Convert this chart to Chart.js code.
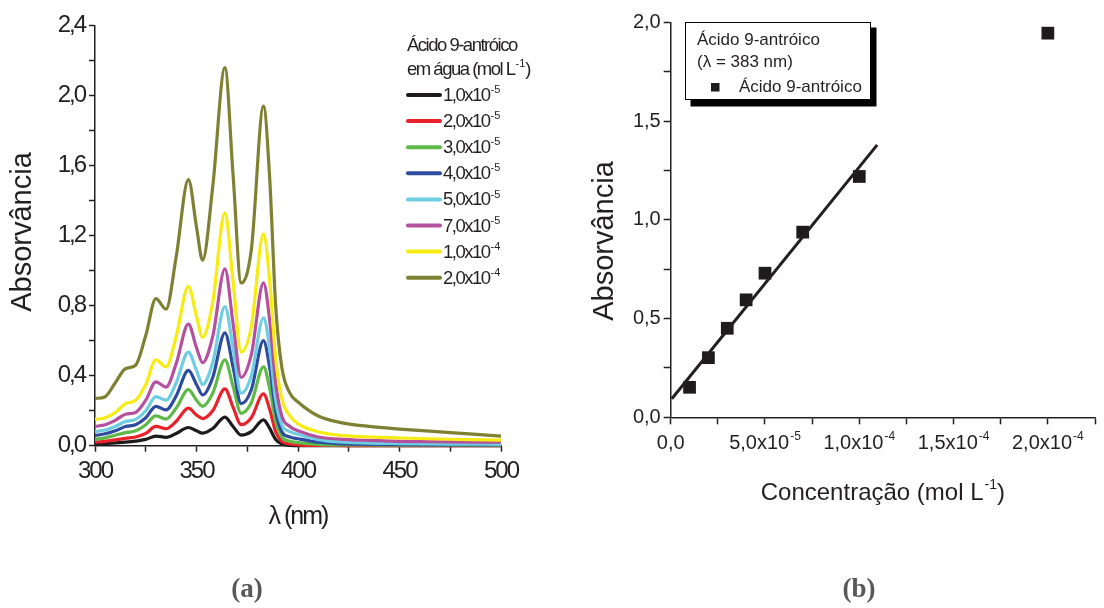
<!DOCTYPE html>
<html>
<head>
<meta charset="utf-8">
<script src="https://cdn.jsdelivr.net/npm/chart.js@4.4.0/dist/chart.umd.min.js"></script>
<style>
    body { margin: 0; background: #fff; width: 1104px; height: 608px; overflow: hidden; position: relative; }
    canvas { position: absolute; top: 0; }
    #chartA { left: 0; }
    #chartB { left: 560px; }
</style>
</head>
<body>
<canvas id="chartA" width="560" height="608"></canvas>
<canvas id="chartB" width="544" height="608"></canvas>
<script>
// (a) espectros UV-Vis
var wavelengths = [300, 305, 310, 315, 320, 325, 330, 335, 340, 346, 350, 353, 358, 364, 368, 372, 377, 383, 386, 389, 392, 396, 400, 410, 420, 435, 450, 475, 500];
var abs1e5 = [0.008, 0.012, 0.016, 0.020, 0.026, 0.036, 0.055, 0.048, 0.070, 0.104, 0.085, 0.072, 0.098, 0.163, 0.110, 0.060, 0.080, 0.148, 0.100, 0.035, 0.010, 0.002, 0.000, 0.000, 0.000, 0.000, 0.000, 0.000, 0.000];
var abs2e5 = [0.020, 0.025, 0.033, 0.042, 0.050, 0.070, 0.110, 0.097, 0.140, 0.215, 0.175, 0.155, 0.200, 0.325, 0.220, 0.120, 0.160, 0.297, 0.210, 0.080, 0.025, 0.010, 0.005, 0.002, 0.001, 0.000, 0.000, 0.000, 0.000];
var abs3e5 = [0.036, 0.045, 0.060, 0.075, 0.085, 0.120, 0.170, 0.152, 0.215, 0.320, 0.260, 0.225, 0.300, 0.490, 0.340, 0.185, 0.245, 0.450, 0.330, 0.140, 0.050, 0.025, 0.018, 0.008, 0.005, 0.004, 0.003, 0.003, 0.002];
var abs4e5 = [0.058, 0.068, 0.085, 0.110, 0.120, 0.160, 0.225, 0.205, 0.285, 0.430, 0.350, 0.290, 0.390, 0.645, 0.450, 0.240, 0.320, 0.600, 0.450, 0.200, 0.080, 0.050, 0.040, 0.020, 0.012, 0.008, 0.006, 0.005, 0.004];
var abs5e5 = [0.080, 0.090, 0.110, 0.138, 0.150, 0.200, 0.280, 0.260, 0.360, 0.535, 0.430, 0.350, 0.475, 0.795, 0.560, 0.300, 0.400, 0.730, 0.560, 0.260, 0.120, 0.080, 0.065, 0.035, 0.022, 0.015, 0.012, 0.009, 0.008];
var abs7e5 = [0.110, 0.120, 0.145, 0.180, 0.190, 0.260, 0.365, 0.335, 0.470, 0.695, 0.560, 0.475, 0.625, 1.010, 0.700, 0.390, 0.520, 0.930, 0.720, 0.360, 0.170, 0.110, 0.085, 0.050, 0.038, 0.030, 0.025, 0.022, 0.020];
var abs1e4 = [0.150, 0.160, 0.190, 0.240, 0.260, 0.350, 0.490, 0.450, 0.625, 0.910, 0.740, 0.620, 0.820, 1.330, 0.940, 0.535, 0.680, 1.210, 0.950, 0.500, 0.270, 0.170, 0.125, 0.080, 0.060, 0.050, 0.044, 0.037, 0.032];
var abs2e4 = [0.270, 0.280, 0.360, 0.440, 0.460, 0.630, 0.840, 0.780, 1.080, 1.520, 1.250, 1.060, 1.480, 2.160, 1.550, 0.930, 1.120, 1.940, 1.540, 0.800, 0.450, 0.300, 0.250, 0.170, 0.135, 0.110, 0.095, 0.075, 0.055];
var spectra = [abs1e5, abs2e5, abs3e5, abs4e5, abs5e5, abs7e5, abs1e4, abs2e4];
// '^' marca o expoente (sobrescrito)
var spectraLabels = ['1,0x10^-5', '2,0x10^-5', '3,0x10^-5', '4,0x10^-5', '5,0x10^-5', '7,0x10^-5', '1,0x10^-4', '2,0x10^-4'];
var spectraColors = ['#1d1b1c', '#e9212b', '#5eb946', '#2d4c9f', '#6ecde0', '#b5509e', '#f7ec12', '#7e8131'];
var legendTitleA = ['Ácido 9-antróico', 'em água (mol L^-1^)'];
var xTicksA = ['300', '350', '400', '450', '500'];
var yTicksA = ['0,0', '0,4', '0,8', '1,2', '1,6', '2,0', '2,4'];

// (b) curva analitica a 383 nm
var concB = [1e-5, 2e-5, 3e-5, 4e-5, 5e-5, 7e-5, 1e-4, 2e-4];
var absB = [0.152, 0.302, 0.451, 0.595, 0.730, 0.938, 1.220, 1.946];
var fitX = [6e-7, 1.095e-4];
var fitY = [0.094, 1.380];
var xTicksB = ['0,0', '5,0x10^-5', '1,0x10^-4', '1,5x10^-4', '2,0x10^-4'];
var yTicksB = ['0,0', '0,5', '1,0', '1,5', '2,0'];
var legendTextB = ['Ácido 9-antróico', '(λ = 383 nm)', 'Ácido 9-antróico'];
var xTitleB = 'Concentração (mol L^-1^)';

var font = '"Liberation Sans", Arial, sans-serif';
var ink = '#231f20';

Chart.defaults.animation = false;
Chart.defaults.font.family = font;

function majorOnly(labels) {
    return function (value, index) {
        return index % 2 === 0 ? labels[index / 2] : '';
    };
}

// texto com expoente: "base^sup^resto"
function richText(ctx, text, x, y, size, align) {
    var parts = text.split('^');
    var small = Math.round(size * 0.6);
    var spacing = ctx.letterSpacing || '0px';
    function setPart(i) {
        ctx.font = (i % 2 ? small : size) + 'px ' + font;
        ctx.letterSpacing = i % 2 ? '0px' : spacing;
    }
    var widths = parts.map(function (p, i) {
        setPart(i);
        return ctx.measureText(p).width + (i % 2 ? 1 : 0);
    });
    var total = widths.reduce(function (a, b) { return a + b; }, 0);
    var cx = align === 'center' ? x - total / 2 : (align === 'right' ? x - total : x);
    ctx.textAlign = 'left';
    ctx.textBaseline = 'middle';
    parts.forEach(function (p, i) {
        setPart(i);
        ctx.fillText(p, cx + (i % 2 ? 1 : 0), i % 2 ? y - size * 0.32 : y);
        cx += widths[i];
    });
    ctx.letterSpacing = spacing;
}

function caption(ctx, text, x, y) {
    ctx.save();
    ctx.letterSpacing = '0px';
    ctx.fillStyle = '#585858';
    ctx.textAlign = 'center';
    ctx.textBaseline = 'middle';
    ctx.font = 'bold 27px "Liberation Serif", "Times New Roman", serif';
    ctx.fillText(text, x, y);
    ctx.restore();
}

function yTitle(ctx, text, x, y) {
    ctx.save();
    ctx.letterSpacing = '0px';
    ctx.fillStyle = ink;
    ctx.textAlign = 'center';
    ctx.textBaseline = 'middle';
    ctx.font = '29px ' + font;
    ctx.translate(x, y);
    ctx.rotate(-Math.PI / 2);
    ctx.fillText(text, 0, 0);
    ctx.restore();
}

var panelA = {
    id: 'panelA',
    beforeDraw: function (chart) {
        chart.ctx.letterSpacing = '-2px';
    },
    afterDraw: function (chart) {
        var ctx = chart.ctx;
        ctx.save();
        ctx.letterSpacing = '-1.5px';
        ctx.fillStyle = ink;
        richText(ctx, legendTitleA[0], 407, 46, 18.5, 'left');
        richText(ctx, legendTitleA[1], 407, 70, 18.5, 'left');
        chart.data.datasets.forEach(function (ds, i) {
            var y = 95 + i * 26.1;
            ctx.strokeStyle = ds.borderColor;
            ctx.lineWidth = 4;
            ctx.lineCap = 'round';
            ctx.beginPath();
            ctx.moveTo(408, y);
            ctx.lineTo(440, y);
            ctx.stroke();
            richText(ctx, ds.label, 443, y + 1, 18.5, 'left');
        });
        ctx.restore();

        yTitle(ctx, 'Absorvância', 23, 232);
        caption(ctx, '(a)', 247, 590);
    }
};

var panelB = {
    id: 'panelB',
    afterDraw: function (chart) {
        var ctx = chart.ctx;
        var pts = chart.data.datasets[1];
        var xs = chart.scales.x;
        ctx.save();
        // caixa da legenda com sombra
        ctx.fillStyle = '#000';
        ctx.fillRect(130.5, 27.5, 186, 79);
        ctx.fillStyle = '#fff';
        ctx.fillRect(125, 22, 186, 78);
        ctx.strokeStyle = '#000';
        ctx.lineWidth = 1;
        ctx.strokeRect(125.5, 22.5, 185, 77);
        ctx.fillStyle = ink;
        richText(ctx, legendTextB[0], 137, 40, 17, 'left');
        richText(ctx, legendTextB[1], 137, 62, 17, 'left');
        richText(ctx, legendTextB[2], 179, 87, 17, 'left');
        ctx.fillStyle = pts.backgroundColor;
        ctx.fillRect(151, 83, 8.5, 8.5);

        // rotulos do eixo x com expoente
        ctx.fillStyle = ink;
        xs.ticks.forEach(function (t, i) {
            if (i % 2 === 0 && xTicksB[i / 2]) {
                richText(ctx, xTicksB[i / 2], xs.getPixelForValue(t.value), xs.top + 26, 20, 'center');
            }
        });
        richText(ctx, xTitleB, (xs.left + xs.right) / 2, 493, 24, 'center');
        ctx.restore();

        yTitle(ctx, 'Absorvância', 45, 241);
        caption(ctx, '(b)', 299, 590);
    }
};

new Chart(document.getElementById('chartA').getContext('2d'), {
    type: 'line',
    data: {
        datasets: spectra.map(function (values, i) {
            return {
                label: spectraLabels[i],
                data: values.map(function (v, j) { return {x: wavelengths[j], y: v}; }),
                borderColor: spectraColors[i],
                borderWidth: 3.2,
                pointRadius: 0,
                cubicInterpolationMode: 'monotone',
                clip: false,
                order: spectra.length - 1 - i
            };
        })
    },
    options: {
        responsive: false,
        devicePixelRatio: 1,
        layout: {padding: {top: 25.7, right: 59, left: 0, bottom: 0}},
        plugins: {legend: {display: false}, tooltip: {enabled: false}},
        scales: {
            x: {
                type: 'linear', min: 300, max: 500,
                afterFit: function (s) { s.height = 608 - 445.7; },
                border: {color: ink, width: 1.5},
                grid: {drawOnChartArea: false, tickLength: 6, tickColor: ink, tickWidth: 1.5},
                ticks: {stepSize: 25, autoSkip: false, maxRotation: 0, padding: 5, color: ink,
                    font: {size: 24}, callback: majorOnly(xTicksA)},
                title: {display: true, text: 'λ (nm)', color: ink, font: {size: 25}, padding: {top: 0, bottom: 76}}
            },
            y: {
                min: 0, max: 2.4,
                afterFit: function (s) { s.width = 95; },
                border: {color: ink, width: 1.5},
                grid: {drawOnChartArea: false, tickLength: 6, tickColor: ink, tickWidth: 1.5},
                ticks: {stepSize: 0.2, autoSkip: false, padding: 4, color: ink,
                    font: {size: 24}, callback: majorOnly(yTicksA)}
            }
        }
    },
    plugins: [panelA]
});

new Chart(document.getElementById('chartB').getContext('2d'), {
    type: 'scatter',
    data: {
        datasets: [
            {
                label: 'Ajuste linear',
                data: fitX.map(function (x, i) { return {x: x, y: fitY[i]}; }),
                showLine: true,
                borderColor: ink,
                borderWidth: 3,
                pointRadius: 0,
                clip: false
            },
            {
                label: legendTextB[2],
                data: concB.map(function (c, i) { return {x: c, y: absB[i]}; }),
                pointStyle: 'rect',
                pointRadius: 9,
                backgroundColor: '#1d1b1c',
                borderWidth: 0,
                clip: false
            }
        ]
    },
    options: {
        responsive: false,
        devicePixelRatio: 1,
        layout: {padding: {top: 22.5, right: 1, left: 0, bottom: 0}},
        plugins: {legend: {display: false}, tooltip: {enabled: false}},
        scales: {
            x: {
                type: 'linear', min: 0, max: 2.25e-4,
                afterFit: function (s) { s.height = 608 - 417.3; },
                border: {color: ink, width: 1.5},
                grid: {drawOnChartArea: false, tickLength: 7, tickColor: ink, tickWidth: 1.5},
                ticks: {stepSize: 2.5e-5, autoSkip: false, maxRotation: 0, padding: 6, color: ink,
                    font: {size: 20}, callback: function () { return ''; }}
            },
            y: {
                min: 0, max: 2.0,
                afterFit: function (s) { s.width = 110.7; },
                border: {color: ink, width: 1.5},
                grid: {drawOnChartArea: false, tickLength: 7, tickColor: ink, tickWidth: 1.5},
                ticks: {stepSize: 0.25, autoSkip: false, padding: 3, color: ink,
                    font: {size: 20}, callback: majorOnly(yTicksB)}
            }
        }
    },
    plugins: [panelB]
});
</script>
</body>
</html>
